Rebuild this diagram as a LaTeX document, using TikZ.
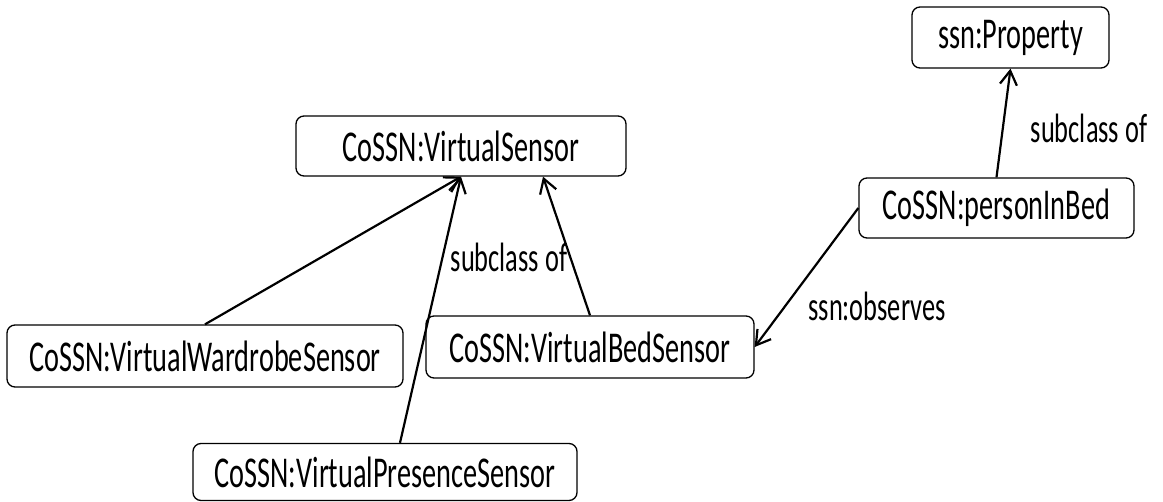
\documentclass[tikz,border=0pt]{standalone}
\usepackage{fontspec}
\newfontfamily\diagfont[FakeStretch=0.643]{Carlito}
\usetikzlibrary{arrows.meta}
\begin{document}
\begin{tikzpicture}[x=1pt,y=-1pt,
  cls/.style={draw=black, line width=1.3pt, rounded corners=8pt, inner sep=0pt,
    align=center, font=\diagfont\fontsize{44}{52}\selectfont},
  lbl/.style={inner sep=0pt, font=\diagfont\fontsize{41}{48}\selectfont},
  sub/.style={line width=2.2pt, -{Straight Barb[length=14pt,width=17pt,line width=2.2pt]}}]
\useasboundingbox[fill=white] (0,0) rectangle (1163,502);
\node[cls, minimum width=330pt, minimum height=60pt] (vs) at (461,146) {CoSSN:VirtualSensor};
\node[cls, minimum width=197pt, minimum height=61pt] (prop) at (1010.5,37.5) {ssn:Property};
\node[cls, minimum width=275pt, minimum height=60pt] (pib) at (996.5,208) {CoSSN:personInBed};
\node[cls, minimum width=396pt, minimum height=62pt] (ward) at (205,356) {CoSSN:VirtualWardrobeSensor};
\node[cls, minimum width=384pt, minimum height=57pt] (pres) at (385,472) {CoSSN:VirtualPresenceSensor};
\node[cls, minimum width=328pt, minimum height=62pt] (bed) at (590,347) {CoSSN:VirtualBedSensor};
\draw[sub] (ward.north) -- (vs.south);
\draw[sub] ([xshift=15pt]pres.north) -- (vs.south);
\draw[sub] (bed.north) -- ([xshift=82pt]vs.south);
\draw[sub] (pib.north) -- (prop.south);
\draw[sub] (pib.west) -- (bed.east);
\node[lbl] (l1) at (509,257) {subclass of};
\node[lbl] (l2) at (1089,128) {subclass of};
\node[lbl] (l3) at (877,306) {ssn:observes};
\end{tikzpicture}
\end{document}
